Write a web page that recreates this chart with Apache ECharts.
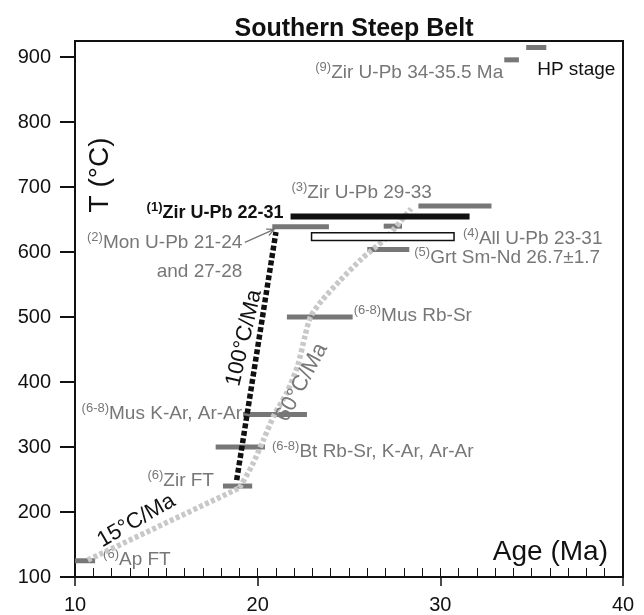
<!DOCTYPE html>
<html>
<head>
<meta charset="utf-8">
<script src="https://cdn.jsdelivr.net/npm/echarts@6/dist/echarts.min.js"></script>
<style>
  html, body { margin: 0; padding: 0; background: #fff; }
  #chart { width: 644px; height: 615px; }
</style>
</head>
<body>
<div id="chart"></div>
<script>
// ---- Data: dated bars (age range in Ma, temperature in °C) ----
const barAgeFrom = [21.8, 20.8, 26.9, 28.8, 26.0, 21.6, 19.2, 17.7, 18.1, 10.0, 33.5, 34.7];
const barAgeTo   = [31.6, 23.9, 27.9, 32.8, 28.3, 25.2, 22.7, 20.4, 19.7, 11.1, 34.3, 35.8];
const barTemp    = [655, 639, 640, 671, 604, 500, 350, 300, 240, 125, 896, 915];
const barText    = [
  '{s|(1)}Zir U-Pb 22-31',
  '{s|(2)}Mon U-Pb 21-24\nand 27-28',
  '',
  '{s|(3)}Zir U-Pb 29-33',
  '{s|(5)}Grt Sm-Nd 26.7±1.7',
  '{s|(6-8)}Mus Rb-Sr',
  '{s|(6-8)}Mus K-Ar, Ar-Ar',
  '{s|(6-8)}Bt Rb-Sr, K-Ar, Ar-Ar',
  '{s|(6)}Zir FT',
  '{s|(6)}Ap FT',
  '{s|(9)}Zir U-Pb 34-35.5 Ma',
  'HP stage'
];

// All U-Pb range, drawn as an open box
const allUPbAge  = [22.95, 30.75];
const allUPbTemp = [618, 630];
const allUPbText = '{s|(4)}All U-Pb 23-31';

// Arrow from the monazite label to its bar
const arrowAge  = [19.3, 20.9];
const arrowTemp = [615, 635];

// Cooling paths
const path100Age  = [18.85, 21.0];
const path100Temp = [249, 631];
const path15Age   = [10.7, 19.0];
const path15Temp  = [126, 237];
const path60Age   = [19.0, 19.7, 20.3, 20.9, 21.6, 22.2, 22.6, 22.9, 23.5, 24.5, 25.7, 27.0, 28.4];
const path60Temp  = [237, 272, 310, 349, 384, 426, 472, 501, 525, 556, 590, 621, 667];
const rateText    = ['100°C/Ma', '60°C/Ma', '15°C/Ma'];

// Axis ticks
const xTicks = [10, 20, 30, 40];
const yTicks = [100, 200, 300, 400, 500, 600, 700, 800, 900];

// ---- Styling ----
const FONT = '"Liberation Sans", Arial, Helvetica, sans-serif';
const INK = '#111111';
const GREY = '#777777';
const PATH_GREY = '#c8c8c8';

// label placement relative to bar ends (pixels)
const barLayout = [
  { side: 'left',  dx: -7,   dy: -3,   align: 'right', color: INK,  bold: true, thick: 6, fill: INK },
  { side: 'left',  dx: -30,  dy: 30.5, align: 'right', color: GREY, lh: 29 },
  null,
  { side: 'left',  dx: -127, dy: -13,  align: 'left',  color: GREY },
  { side: 'right', dx: 5,    dy: 8,    align: 'left',  color: GREY },
  { side: 'right', dx: 1,    dy: -1,   align: 'left',  color: GREY },
  { side: 'left',  dx: -1,   dy: -1,   align: 'right', color: GREY },
  { side: 'right', dx: 7,    dy: 5,    align: 'left',  color: GREY },
  { side: 'left',  dx: -9,   dy: -5,   align: 'right', color: GREY },
  { side: 'right', dx: 8,    dy: -1,   align: 'left',  color: GREY },
  { side: 'left',  dx: -1,   dy: 13,   align: 'right', color: GREY },
  { side: 'left',  dx: 11,   dy: 22,   align: 'left',  color: INK }
];

function labelStyle(text, color, bold, align, lh) {
  return {
    legacy: false,
    text: text,
    fill: color,
    fontFamily: FONT,
    fontSize: bold ? 18 : 19,
    fontWeight: bold ? 'bold' : 'normal',
    lineHeight: lh || 24,
    align: align,
    verticalAlign: 'middle',
    rich: {
      s: { fill: color, fontFamily: FONT, fontSize: 13, fontWeight: bold ? 'bold' : 'normal', padding: [0, 0, 11, 0] }
    }
  };
}

function renderBar(params, api) {
  const i = api.value(3);
  const lay = barLayout[i] || {};
  const a = api.coord([api.value(0), api.value(2)]);
  const b = api.coord([api.value(1), api.value(2)]);
  const h = lay.thick || 5;
  const children = [{
    type: 'rect',
    shape: { x: a[0], y: a[1] - h / 2, width: b[0] - a[0], height: h },
    style: { fill: lay.fill || GREY }
  }];
  if (barText[i]) {
    const ax = lay.side === 'left' ? a[0] : b[0];
    children.push({
      type: 'text', x: ax + lay.dx, y: a[1] + lay.dy,
      style: labelStyle(barText[i], lay.color, lay.bold, lay.align, lay.lh)
    });
  }
  return { type: 'group', children: children };
}

const barRows = barAgeFrom.map((v, i) => [v, barAgeTo[i], barTemp[i], i]);
const greyRows = barRows.filter(r => r[3] !== 0);
const blackRows = barRows.filter(r => r[3] === 0);

function pairs(ages, temps) { return ages.map((v, i) => [v, temps[i]]); }

const chart = echarts.init(document.getElementById('chart'), null, { renderer: 'canvas' });

const option = {
  animation: false,
  backgroundColor: '#ffffff',
  title: {
    text: 'Southern Steep Belt',
    left: 349, top: 12, textAlign: 'center',
    textStyle: { fontFamily: FONT, fontSize: 25, fontWeight: 'bold', color: INK }
  },
  grid: { left: 75, right: 21, top: 41, bottom: 38, show: true, borderColor: INK, borderWidth: 2 },
  xAxis: [
    {
      type: 'value', min: 10, max: 40, interval: 10,
      axisLine: { onZero: false, lineStyle: { color: INK, width: 2 } },
      axisTick: { length: 9, lineStyle: { color: INK, width: 1.5 } },
      axisLabel: { margin: 18, fontSize: 20, color: INK, fontFamily: FONT, customValues: xTicks },
      splitLine: { show: false }
    },
    {
      type: 'value', min: 10, max: 40, interval: 1, position: 'bottom',
      axisLine: { show: false },
      axisTick: { inside: true, length: 9, lineStyle: { color: INK, width: 1 } },
      axisLabel: { show: false },
      splitLine: { show: false }
    }
  ],
  yAxis: {
    type: 'value', min: 100, max: 925, interval: 100,
    axisLine: { onZero: false, lineStyle: { color: INK, width: 2 } },
    axisTick: { length: 15, customValues: yTicks, lineStyle: { color: INK, width: 2 } },
    axisLabel: { margin: 24, fontSize: 20, color: INK, fontFamily: FONT, customValues: yTicks },
    splitLine: { show: false }
  },
  graphic: [
    {
      type: 'text', x: 100, y: 175, rotation: Math.PI / 2,
      style: { legacy: false, text: 'T (°C)', fill: INK, fontFamily: FONT, fontSize: 28, align: 'center', verticalAlign: 'middle' }
    },
    {
      type: 'text', x: 608, y: 552,
      style: { legacy: false, text: 'Age (Ma)', fill: INK, fontFamily: FONT, fontSize: 28, align: 'right', verticalAlign: 'middle' }
    }
  ],
  series: [
    {
      name: 'Grey bars', type: 'custom', z: 2, clip: false,
      renderItem: renderBar,
      encode: { x: [0, 1], y: 2 },
      data: greyRows
    },
    {
      name: '15°C/Ma path', type: 'line', z: 3, showSymbol: false, symbol: 'none',
      lineStyle: { color: PATH_GREY, width: 5.5, type: [4, 2.5], cap: 'butt' },
      data: pairs(path15Age, path15Temp)
    },
    {
      name: '60°C/Ma path', type: 'line', z: 3, showSymbol: false, symbol: 'none', smooth: 0.25,
      lineStyle: { color: PATH_GREY, width: 5.5, type: [4, 2.5], cap: 'butt' },
      data: pairs(path60Age, path60Temp)
    },
    {
      name: '100°C/Ma path', type: 'line', z: 4, showSymbol: false, symbol: 'none',
      lineStyle: { color: INK, width: 5.5, type: [5, 2.5], cap: 'butt' },
      data: pairs(path100Age, path100Temp)
    },
    {
      name: 'Zircon bar', type: 'custom', z: 5, clip: false,
      renderItem: renderBar,
      encode: { x: [0, 1], y: 2 },
      data: blackRows
    },
    {
      name: 'All U-Pb', type: 'custom', z: 5, clip: false,
      encode: { x: [0, 1], y: [2, 3] },
      data: [[allUPbAge[0], allUPbAge[1], allUPbTemp[0], allUPbTemp[1]]],
      renderItem: function (params, api) {
        const p0 = api.coord([api.value(0), api.value(3)]);
        const p1 = api.coord([api.value(1), api.value(2)]);
        return {
          type: 'group', children: [
            { type: 'rect', shape: { x: p0[0], y: p0[1], width: p1[0] - p0[0], height: p1[1] - p0[1] },
              style: { fill: '#ffffff', stroke: INK, lineWidth: 1.5 } },
            { type: 'text', x: p1[0] + 9, y: (p0[1] + p1[1]) / 2 + 2,
              style: labelStyle(allUPbText, GREY, false, 'left') }
          ]
        };
      }
    },
    {
      name: 'Arrow', type: 'custom', z: 5, clip: false,
      encode: { x: [0, 1], y: [2, 3] },
      data: [[arrowAge[0], arrowAge[1], arrowTemp[0], arrowTemp[1]]],
      renderItem: function (params, api) {
        const p0 = api.coord([api.value(0), api.value(2)]);
        const p1 = api.coord([api.value(1), api.value(3)]);
        const ang = Math.atan2(p1[1] - p0[1], p1[0] - p0[0]);
        const L = 8, w = 0.45;
        const h1 = [p1[0] - L * Math.cos(ang - w), p1[1] - L * Math.sin(ang - w)];
        const h2 = [p1[0] - L * Math.cos(ang + w), p1[1] - L * Math.sin(ang + w)];
        return {
          type: 'group', children: [
            { type: 'line', shape: { x1: p0[0], y1: p0[1], x2: p1[0], y2: p1[1] }, style: { stroke: GREY, lineWidth: 1.3 } },
            { type: 'polyline', shape: { points: [h1, p1, h2] }, style: { stroke: GREY, lineWidth: 1.3, fill: null } }
          ]
        };
      }
    },
    {
      name: 'Rate labels', type: 'custom', z: 6, clip: false,
      encode: { x: 0, y: 1 },
      data: [[path100Age[0], path100Temp[0], 0], [path60Age[4], path60Temp[4], 1], [path15Age[0], path15Temp[0], 2]],
      renderItem: function (params, api) {
        const k = api.value(2);
        let anchor, dx, dy, rot, color;
        if (k === 0) {
          const a = api.coord([path100Age[0], path100Temp[0]]);
          const b = api.coord([path100Age[1], path100Temp[1]]);
          const t = 0.573;
          anchor = [a[0] + (b[0] - a[0]) * t, a[1] + (b[1] - a[1]) * t];
          dx = -15; dy = 0; rot = 77; color = INK;
        } else if (k === 1) {
          anchor = api.coord([path60Age[4], path60Temp[4]]);
          dx = 15; dy = -10; rot = 61.5; color = GREY;
        } else {
          const a = api.coord([path15Age[0], path15Temp[0]]);
          const b = api.coord([path15Age[1], path15Temp[1]]);
          const t = 0.31;
          anchor = [a[0] + (b[0] - a[0]) * t, a[1] + (b[1] - a[1]) * t];
          dx = 1.5; dy = -17; rot = 30; color = INK;
        }
        return {
          type: 'text', x: anchor[0] + dx, y: anchor[1] + dy, rotation: rot * Math.PI / 180,
          style: { legacy: false, text: rateText[k], fill: color, fontFamily: FONT, fontSize: 22, align: 'center', verticalAlign: 'middle' }
        };
      }
    }
  ]
};

chart.setOption(option);
</script>
</body>
</html>
